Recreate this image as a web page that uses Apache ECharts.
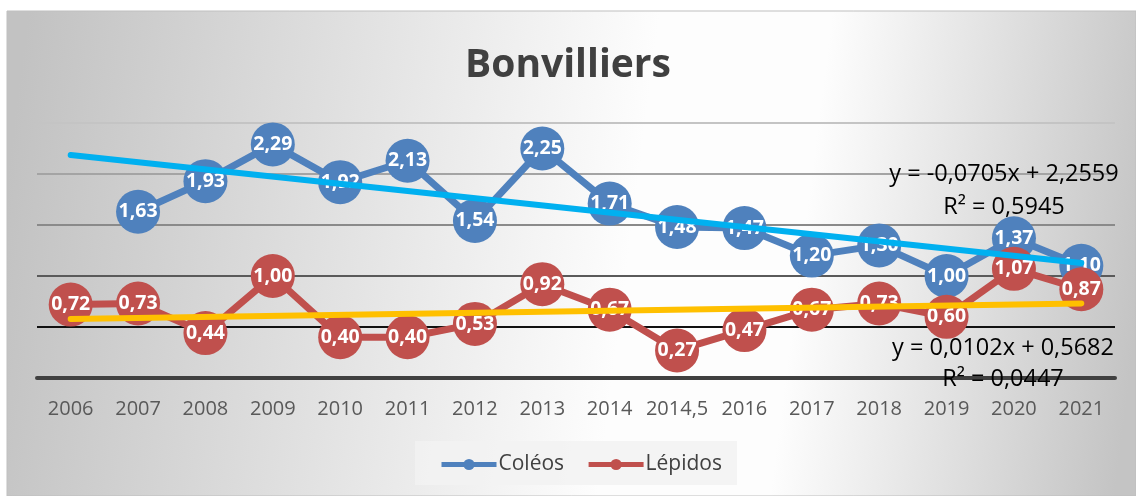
<!DOCTYPE html>
<html>
<head>
<meta charset="utf-8">
<script src="https://cdn.jsdelivr.net/npm/echarts@6/dist/echarts.min.js"></script>
<style>
    html, body { margin: 0; padding: 0; background: #fff; }
    #chart { width: 1136px; height: 496px; }
</style>
</head>
<body>
<div id="chart"></div>
<script>
// données
const years = ['2006', '2007', '2008', '2009', '2010', '2011', '2012', '2013', '2014', '2014,5', '2016', '2017', '2018', '2019', '2020', '2021'];
const coleos = [null, 1.63, 1.93, 2.29, 1.92, 2.13, 1.54, 2.25, 1.71, 1.48, 1.47, 1.20, 1.30, 1.00, 1.37, 1.10];
const lepidos = [0.72, 0.73, 0.44, 1.00, 0.40, 0.40, 0.53, 0.92, 0.67, 0.27, 0.47, 0.67, 0.73, 0.60, 1.07, 0.87];
// courbes de tendance (extrémités, x = 1 et x = 16)
const coleosTrend = [2.1854, 1.1279];
const lepidosTrend = [0.5784, 0.7314];
const coleosEq = ['y = -0,0705x + 2,2559', 'R² = 0,5945'];
const lepidosEq = ['y = 0,0102x + 0,5682', 'R² = 0,0447'];

const chart = echarts.init(document.getElementById('chart'));
const font = '"Open Sans", "DejaVu Sans", sans-serif';
const eqFont = '23.5px ' + font;

function fmt(p) {
    return p.value == null ? '' : p.value.toFixed(2).replace('.', ',');
}

chart.setOption({
    animation: false,
    textStyle: { fontFamily: font },
    graphic: [
        {
            type: 'rect', z: -10, silent: true,
            shape: { x: 7, y: 11, width: 1129, height: 485 },
            style: {
                fill: new echarts.graphic.LinearGradient(0, 0.35, 1, 0.65, [
                    { offset: 0, color: '#c2c2c2' },
                    { offset: 0.55, color: '#fdfdfd' },
                    { offset: 0.7, color: '#fdfdfd' },
                    { offset: 1, color: '#c4c4c4' }
                ]),
                stroke: '#bfbfbf', lineWidth: 1
            }
        },
        {
            type: 'rect', z: -9, silent: true,
            shape: { x: 415, y: 441, width: 322, height: 44 },
            style: { fill: 'rgba(242,242,242,0.85)' }
        },
        { type: 'text', z: 20, x: 1004, y: 174, style: { text: coleosEq[0], font: eqFont, fill: '#000', align: 'center', verticalAlign: 'middle' } },
        { type: 'text', z: 20, x: 1004, y: 207, style: { text: coleosEq[1], font: eqFont, fill: '#000', align: 'center', verticalAlign: 'middle' } },
        { type: 'text', z: 20, x: 1003, y: 348, style: { text: lepidosEq[0], font: eqFont, fill: '#000', align: 'center', verticalAlign: 'middle' } },
        { type: 'text', z: 20, x: 1003, y: 379, style: { text: lepidosEq[1], font: eqFont, fill: '#000', align: 'center', verticalAlign: 'middle' } }
    ],
    title: {
        text: 'Bonvilliers',
        left: 'center',
        top: 41,
        textStyle: { fontSize: 39, fontWeight: 'bold', color: '#404040', fontFamily: font }
    },
    legend: {
        data: ['Coléos', 'Lépidos'],
        left: 434,
        top: 449,
        itemWidth: 55,
        itemHeight: 14,
        itemGap: 22,
        lineStyle: { width: 5 },
        textStyle: { fontSize: 21, color: '#404040', fontFamily: font, padding: [0, 0, 0, -3] }
    },
    grid: { left: 37, right: 21, top: 123, bottom: 118 },
    xAxis: {
        type: 'category',
        data: years,
        axisLine: { show: true, lineStyle: { color: '#404040', width: 4 } },
        axisTick: { show: false },
        axisLabel: { fontSize: 20, color: '#595959', margin: 21, interval: 0, fontFamily: font }
    },
    yAxis: {
        type: 'value',
        min: 0,
        max: 2.5,
        interval: 0.5,
        axisLabel: { show: false },
        axisLine: { show: false },
        axisTick: { show: false },
        splitLine: {
            lineStyle: {
                width: 2,
                color: ['#404040', '#111111', '#5a5a5a', '#8a8a8a', '#a4a4a4', '#c4c4c4']
            }
        }
    },
    series: [
        {
            name: 'Coléos',
            type: 'line',
            data: coleos,
            z: 2,
            symbol: 'circle',
            symbolSize: 44,
            lineStyle: { color: '#4f81bd', width: 7 },
            itemStyle: { color: '#4f81bd' },
            label: { show: true, position: 'inside', color: '#fff', fontSize: 19.5, fontWeight: 'bold', fontFamily: font, formatter: fmt }
        },
        {
            name: 'Lépidos',
            type: 'line',
            data: lepidos,
            z: 3,
            symbol: 'circle',
            symbolSize: 44,
            lineStyle: { color: '#c0504d', width: 7 },
            itemStyle: { color: '#c0504d' },
            label: { show: true, position: 'inside', color: '#fff', fontSize: 19.5, fontWeight: 'bold', fontFamily: font, formatter: fmt }
        },
        {
            name: 'Tendance Coléos',
            type: 'line',
            z: 5,
            data: [[years[0], coleosTrend[0]], [years[years.length - 1], coleosTrend[1]]],
            symbol: 'none',
            lineStyle: { color: '#00b0f0', width: 6, cap: 'round' }
        },
        {
            name: 'Tendance Lépidos',
            type: 'line',
            z: 5,
            data: [[years[0], lepidosTrend[0]], [years[years.length - 1], lepidosTrend[1]]],
            symbol: 'none',
            lineStyle: { color: '#ffc000', width: 6, cap: 'round' }
        }
    ]
});

window.addEventListener('resize', function() {
    chart.resize();
});
</script>
</body>
</html>
